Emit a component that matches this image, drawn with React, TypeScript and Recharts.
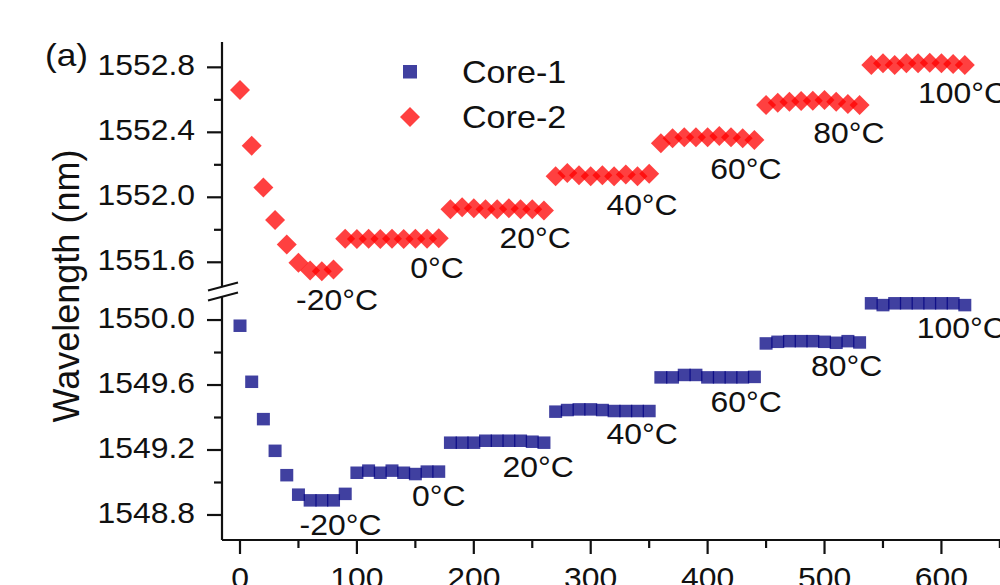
import React from 'react';
import { ScatterChart, Scatter, XAxis, YAxis, ReferenceDot } from 'recharts';

// ---------------- data ----------------
const timeMin = [
  0, 10, 20, 30, 40, 50, 60, 70, 80, 90,
  100, 110, 120, 130, 140, 150, 160, 170,
  180, 190, 200, 210, 220, 230, 240, 250, 260,
  270, 280, 290, 300, 310, 320, 330, 340, 350,
  360, 370, 380, 390, 400, 410, 420, 430, 440,
  450, 460, 470, 480, 490, 500, 510, 520, 530,
  540, 550, 560, 570, 580, 590, 600, 610, 620,
];

const core1Nm = [
  1549.965, 1549.62, 1549.39, 1549.195, 1549.045, 1548.925, 1548.89, 1548.89, 1548.89, 1548.93,
  1549.06, 1549.073, 1549.06, 1549.073, 1549.06, 1549.052, 1549.067, 1549.067,
  1549.245, 1549.245, 1549.245, 1549.257, 1549.257, 1549.257, 1549.257, 1549.251, 1549.245,
  1549.436, 1549.446, 1549.45, 1549.45, 1549.446, 1549.44, 1549.44, 1549.44, 1549.44,
  1549.647, 1549.647, 1549.662, 1549.662, 1549.647, 1549.647, 1549.647, 1549.647, 1549.65,
  1549.856, 1549.866, 1549.87, 1549.87, 1549.87, 1549.866, 1549.86, 1549.87, 1549.862,
  1550.103, 1550.092, 1550.103, 1550.103, 1550.103, 1550.103, 1550.103, 1550.103, 1550.092,
];

const core2Nm = [
  1552.66, 1552.318, 1552.06, 1551.86, 1551.71, 1551.597, 1551.55, 1551.545, 1551.555,
  1551.745, 1551.743, 1551.745, 1551.743, 1551.745, 1551.743, 1551.745, 1551.745, 1551.748,
  1551.926, 1551.938, 1551.932, 1551.926, 1551.926, 1551.932, 1551.926, 1551.926, 1551.918,
  1552.13, 1552.15, 1552.135, 1552.13, 1552.135, 1552.13, 1552.14, 1552.13, 1552.145,
  1552.332, 1552.363, 1552.369, 1552.369, 1552.369, 1552.377, 1552.369, 1552.363, 1552.353,
  1552.568, 1552.582, 1552.588, 1552.593, 1552.595, 1552.599, 1552.588, 1552.574, 1552.568,
  1552.814, 1552.825, 1552.814, 1552.825, 1552.825, 1552.828, 1552.825, 1552.82, 1552.814,
];

const xTicks = [0, 50, 100, 150, 200, 250, 300, 350, 400, 450, 500, 550, 600, 650];
const upperTicks = [1551.6, 1551.8, 1552.0, 1552.2, 1552.4, 1552.6, 1552.8];
const lowerTicks = [1548.8, 1549.0, 1549.2, 1549.4, 1549.6, 1549.8, 1550.0];

const tempLabels = ['-20°C', '0°C', '20°C', '40°C', '60°C', '80°C', '100°C'];
const core1LabelX = [86, 170, 255, 344, 433, 519, 617];
const core1LabelY = [1548.738, 1548.917, 1549.095, 1549.302, 1549.495, 1549.717, 1549.951];
const core2LabelX = [83, 168.5, 252.4, 343.9, 432.8, 520.9, 618];
const core2LabelY = [1551.368, 1551.565, 1551.753, 1551.958, 1552.179, 1552.396, 1552.645];

const seriesNames = ['Core-1', 'Core-2'];

// ---------------- layout ----------------
const W = 1018;
const H = 585;
const YAXIS_W = 222;
const X_DOMAIN: [number, number] = [-15.4, 665.5];
const UPPER_DOMAIN: [number, number] = [1551.454, 1552.956];
const LOWER_DOMAIN: [number, number] = [1548.646, 1550.148];
const FONT = '"Liberation Sans", Arial, Helvetica, sans-serif';
const INK = '#111';
const AXIS_W = 2.2;
const BLUE = '#000080';
const RED = '#ff0000';
const ALPHA = 0.75;

const core1Data = timeMin.map((t, i) => ({ t, nm: core1Nm[i] }));
const core2Data = timeMin.map((t, i) => ({ t, nm: core2Nm[i] }));

function SText(props: { x: number; y: number; size: number; anchor?: string; sx?: number; children: any }) {
  const { x, y, size, anchor = 'start', sx = 1.1, children } = props;
  return (
    <text
      transform={`translate(${x},${y}) scale(${sx},1)`}
      x={0}
      y={0}
      fontSize={size}
      fontFamily={FONT}
      textAnchor={anchor as any}
      fill={INK}
    >
      {children}
    </text>
  );
}

const YTick = (p: any) => {
  const { x, y, payload } = p;
  const v = Number(payload.value);
  const major = Math.round(v * 10) % 4 === 0;
  return (
    <g>
      <line x1={x - (major ? 15 : 8)} x2={x} y1={y} y2={y} stroke={INK} strokeWidth={AXIS_W} />
      {major && (
        <SText x={x - 27} y={y + 8} size={29} anchor="end">
          {v.toFixed(1)}
        </SText>
      )}
    </g>
  );
};

const XTick = (p: any) => {
  const { x, y, payload } = p;
  const v = Number(payload.value);
  const major = Math.round(v) % 100 === 0;
  return (
    <g>
      <line x1={x} x2={x} y1={y} y2={y + (major ? 14 : 8)} stroke={INK} strokeWidth={AXIS_W} />
      {major && (
        <SText x={x} y={y + 48} size={29} anchor="middle">
          {String(v)}
        </SText>
      )}
    </g>
  );
};

const squareShape = (p: any) => (
  <rect x={p.cx - 6.5} y={p.cy - 6.25} width={13} height={12.5} fill={BLUE} fillOpacity={ALPHA} />
);

const diamondShape = (p: any) => (
  <polygon
    points={`${p.cx},${p.cy - 10} ${p.cx + 10},${p.cy} ${p.cx},${p.cy + 10} ${p.cx - 10},${p.cy}`}
    fill={RED}
    fillOpacity={ALPHA}
  />
);

const annContent = (text: string) => (p: any) => {
  const vb = p.viewBox || {};
  const cx = (vb.x ?? 0) + (vb.width ?? 0) / 2;
  const cy = (vb.y ?? 0) + (vb.height ?? 0) / 2;
  return (
    <SText x={cx} y={cy + 10.4} size={29} anchor="middle">
      {text}
    </SText>
  );
};

function UpperChart() {
  return (
    <ScatterChart width={W} height={H} margin={{ top: 42, right: 0, bottom: H - 286, left: 0 }}>
      <XAxis type="number" dataKey="t" domain={X_DOMAIN} allowDataOverflow hide />
      <XAxis
        xAxisId="top"
        orientation="top"
        type="number"
        dataKey="t"
        domain={X_DOMAIN}
        allowDataOverflow
        height={0}
        tick={false}
        tickLine={false}
        axisLine={{ stroke: INK, strokeWidth: AXIS_W }}
      />
      <YAxis
        type="number"
        dataKey="nm"
        domain={UPPER_DOMAIN}
        allowDataOverflow
        ticks={upperTicks}
        interval={0}
        width={YAXIS_W}
        tickSize={0}
        tickMargin={0}
        tickLine={false}
        axisLine={{ stroke: INK, strokeWidth: AXIS_W }}
        tick={(p: any) => <YTick {...p} />}
      />
      <Scatter name={seriesNames[1]} data={core2Data} shape={diamondShape} isAnimationActive={false} />
      {tempLabels.map((txt, i) => (
        <ReferenceDot
          key={'u' + i}
          x={core2LabelX[i]}
          y={core2LabelY[i]}
          r={1}
          fill="none"
          stroke="none"
          ifOverflow="visible"
          label={annContent(txt)}
        />
      ))}
    </ScatterChart>
  );
}

function LowerChart() {
  return (
    <ScatterChart width={W} height={H} margin={{ top: 296, right: 0, bottom: 0, left: 0 }}>
      <XAxis
        type="number"
        dataKey="t"
        domain={X_DOMAIN}
        allowDataOverflow
        ticks={xTicks}
        interval={0}
        height={H - 540}
        tickSize={0}
        tickMargin={0}
        tickLine={false}
        axisLine={{ stroke: INK, strokeWidth: AXIS_W }}
        tick={(p: any) => <XTick {...p} />}
      />
      <YAxis
        type="number"
        dataKey="nm"
        domain={LOWER_DOMAIN}
        allowDataOverflow
        ticks={lowerTicks}
        interval={0}
        width={YAXIS_W}
        tickSize={0}
        tickMargin={0}
        tickLine={false}
        axisLine={{ stroke: INK, strokeWidth: AXIS_W }}
        tick={(p: any) => <YTick {...p} />}
      />
      <Scatter name={seriesNames[0]} data={core1Data} shape={squareShape} isAnimationActive={false} />
      {tempLabels.map((txt, i) => (
        <ReferenceDot
          key={'l' + i}
          x={core1LabelX[i]}
          y={core1LabelY[i]}
          r={1}
          fill="none"
          stroke="none"
          ifOverflow="visible"
          label={annContent(txt)}
        />
      ))}
    </ScatterChart>
  );
}

function Overlay() {
  return (
    <svg width={1000} height={H} style={{ position: 'absolute', left: 0, top: 0 }}>
      {/* panel tag */}
      <SText x={45} y={66} size={32}>(a)</SText>
      {/* y-axis title */}
      <text
        transform="translate(79,286) rotate(-90)"
        textAnchor="middle"
        fontSize={36}
        fontFamily={FONT}
        fill={INK}
      >
        Wavelength (nm)
      </text>
      {/* axis break marks */}
      <rect x={216} y={286} width={12} height={10} fill="#fff" />
      <line x1={208} y1={290.5} x2={238} y2={282.5} stroke={INK} strokeWidth={2} />
      <line x1={208} y1={300.5} x2={238} y2={292.5} stroke={INK} strokeWidth={2} />
      {/* legend */}
      <rect x={403} y={65} width={14} height={13.5} fill={BLUE} fillOpacity={ALPHA} />
      <SText x={462} y={83} size={31}>{seriesNames[0]}</SText>
      <polygon points="410,107 420,117 410,127 400,117" fill={RED} fillOpacity={ALPHA} />
      <SText x={462} y={128} size={31}>{seriesNames[1]}</SText>
    </svg>
  );
}

export default function App() {
  return (
    <div
      style={{
        position: 'fixed',
        left: 0,
        top: 0,
        width: 1000,
        height: H,
        overflow: 'hidden',
        background: '#fff',
      }}
    >
      <div style={{ position: 'absolute', left: 0, top: 0 }}>
        <LowerChart />
      </div>
      <div style={{ position: 'absolute', left: 0, top: 0 }}>
        <UpperChart />
      </div>
      <Overlay />
    </div>
  );
}
